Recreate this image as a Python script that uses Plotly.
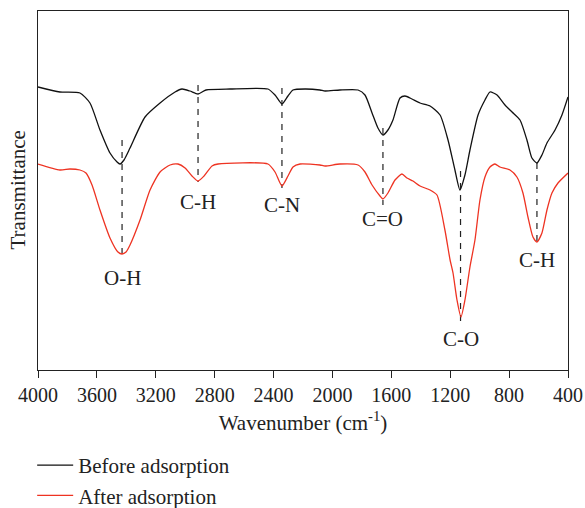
import plotly.graph_objects as go

# Wavenumber (cm-1) and transmittance (arbitrary units)
before_wn = [4000, 3851, 3715, 3647, 3579, 3511, 3463, 3443, 3416, 3375, 3273, 3171, 3069, 3022,
             2968, 2913, 2859, 2696, 2438, 2390, 2343, 2302, 2268, 2186, 2085, 2050, 1949, 1826,
             1779, 1731, 1691, 1657, 1623, 1589, 1541, 1507, 1460, 1405, 1337, 1269, 1215, 1168,
             1134, 1100, 1066, 1011, 964, 930, 882, 828, 780, 726, 679, 645, 611, 577, 543, 488,
             441, 400]
before_t = [283, 278, 277, 267, 240, 217, 208, 206, 210, 222, 253, 267, 278, 281,
            279, 276, 280, 281, 281, 275, 266, 274, 280, 281, 280, 279, 280, 280,
            275, 257, 242, 235, 240, 250, 272, 274, 271, 267, 264, 255, 230, 200,
            180, 195, 220, 255, 270, 278, 275, 265, 258, 250, 230, 212, 207, 215, 227, 240,
            255, 273]

after_wn = [4000, 3851, 3783, 3715, 3674, 3633, 3579, 3511, 3457, 3429, 3402, 3375, 3307, 3239,
            3171, 3103, 3049, 3001, 2954, 2913, 2872, 2818, 2777, 2438, 2390, 2343, 2302, 2268,
            2220, 2085, 2050, 1949, 1826, 1779, 1731, 1677, 1657, 1623, 1575, 1528, 1494, 1453,
            1405, 1337, 1290, 1236, 1201, 1181, 1154, 1127, 1100, 1066, 1032, 998, 964, 930,
            896, 862, 794, 747, 706, 672, 638, 611, 577, 543, 509, 468, 400]
after_t = [206, 200, 201, 200, 197, 185, 160, 132, 118, 116, 118, 125, 150, 180,
           198, 205, 206, 202, 194, 189, 194, 204, 206, 206, 198, 184, 194, 203,
           206, 205, 204, 206, 205, 198, 185, 174, 171, 177, 190, 196, 192, 189,
           184, 180, 175, 140, 110, 97, 70, 53, 70, 103, 130, 170, 193, 203,
           206, 203, 200, 193, 177, 153, 133, 128, 137, 160, 177, 187, 197]

# Band assignments
band_wn = [3429, 2913, 2343, 1657, 1130, 611]
band_labels = ["O-H", "C-H", "C-N", "C=O", "C-O", "C-H"]
band_top = [230, 285, 282, 242, 199, 207]
band_bottom = [110, 188, 182, 165, 45, 123]
band_label_t = [92, 168, 165, 151, 31, 110]

FONT = "Liberation Serif"
TXT = "#222222"

fig = go.Figure()

for wn, t0, t1 in zip(band_wn, band_top, band_bottom):
    fig.add_trace(go.Scatter(x=[wn, wn], y=[t0, t1], mode="lines", showlegend=False,
                             hoverinfo="skip",
                             line=dict(color="#222222", width=1.2, dash="6px,6px")))

fig.add_trace(go.Scatter(x=before_wn, y=before_t, mode="lines", name="Before adsorption",
                         line=dict(color="#111111", width=1.3, shape="spline", smoothing=0.6)))
fig.add_trace(go.Scatter(x=after_wn, y=after_t, mode="lines", name="After adsorption",
                         line=dict(color="#ee3322", width=1.3, shape="spline", smoothing=0.6)))

for wn, lab, ty in zip(band_wn, band_labels, band_label_t):
    fig.add_annotation(x=wn, y=ty, text=lab, showarrow=False, xanchor="center", yanchor="middle",
                       font=dict(family=FONT, size=21, color=TXT))

fig.add_annotation(xref="paper", yref="paper", x=0, y=0.5, xshift=-21, text="Transmittance",
                   textangle=-90, showarrow=False, xanchor="center", yanchor="middle",
                   font=dict(family=FONT, size=21, color=TXT))

fig.update_layout(
    width=585, height=508,
    margin=dict(l=38, r=17, t=11, b=138, autoexpand=False),
    paper_bgcolor="white", plot_bgcolor="white",
    font=dict(family=FONT, size=20, color=TXT),
    showlegend=True,
    legend=dict(xref="container", yref="container", x=0.055, y=0.124,
                xanchor="left", yanchor="top", bgcolor="rgba(0,0,0,0)",
                font=dict(family=FONT, size=21, color=TXT), itemwidth=36,
                tracegroupgap=0),
    xaxis=dict(range=[4000, 400], tickvals=[4000, 3600, 3200, 2800, 2400, 2000, 1600, 1200, 800, 400],
               tickangle=0, ticks="outside", ticklen=7, tickcolor=TXT, showline=True, linecolor=TXT,
               linewidth=1, mirror=True, showgrid=False, zeroline=False,
               tickfont=dict(family=FONT, size=20, color=TXT),
               title=dict(text="Wavenumber (cm<sup>-1</sup>)", standoff=10,
                          font=dict(family=FONT, size=21, color=TXT))),
    yaxis=dict(range=[0, 359], showticklabels=False, ticks="", showline=True, linecolor=TXT,
               linewidth=1, mirror=True, showgrid=False, zeroline=False),
)

fig.write_html("out.html")
